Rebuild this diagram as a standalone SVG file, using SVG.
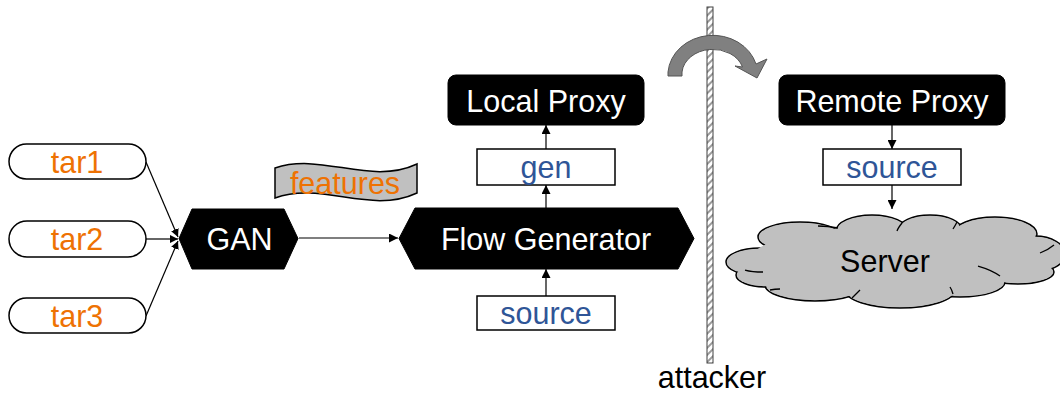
<svg xmlns="http://www.w3.org/2000/svg" width="1060" height="393" viewBox="0 0 1060 393">
  <style>
    text { font-family: "Liberation Sans", Arial, sans-serif; font-size: 30.5px; text-anchor: middle; }
    .orange { fill: #EE7203; }
    .blue { fill: #2F5597; }
    .white { fill: #FFFFFF; }
    .black { fill: #000000; }
    .box { fill: #FFFFFF; stroke: #000000; stroke-width: 1.5; }
    .dark { fill: #000000; stroke: #000000; stroke-width: 1; }
    .conn { fill: none; stroke: #000000; stroke-width: 1.2; }
    .lobe { fill: #C0C0C0; stroke: #000000; stroke-width: 1.5; }
    .lobefill { fill: #C0C0C0; stroke: none; }
  </style>
  <defs>
    <marker id="arrow" viewBox="0 0 10 10" refX="10" refY="5" markerWidth="9" markerHeight="9" markerUnits="userSpaceOnUse" orient="auto">
      <path d="M0,0 L10,5 L0,10 Z" fill="#000000"/>
    </marker>
    <marker id="arrowSmall" viewBox="0 0 10 10" refX="10" refY="5" markerWidth="8" markerHeight="8" markerUnits="userSpaceOnUse" orient="auto">
      <path d="M0,0 L10,5 L0,10 Z" fill="#000000"/>
    </marker>
    <pattern id="hatch" width="5" height="5" patternUnits="userSpaceOnUse" patternTransform="rotate(45)">
      <rect width="5" height="5" fill="#FFFFFF"/>
      <rect width="2" height="5" fill="#9A9A9A"/>
    </pattern>
  </defs>

  <!-- connectors -->
  <g id="connectors">
    <line class="conn" x1="146" y1="162" x2="178" y2="237" marker-end="url(#arrowSmall)"/>
    <line class="conn" x1="146" y1="239" x2="178" y2="239" marker-end="url(#arrowSmall)"/>
    <line class="conn" x1="146" y1="316" x2="178" y2="241" marker-end="url(#arrowSmall)"/>
    <line class="conn" x1="299" y1="238" x2="398" y2="238" stroke-width="1.6" marker-end="url(#arrow)"/>
    <line class="conn" x1="546" y1="296" x2="546" y2="269" marker-end="url(#arrow)"/>
    <line class="conn" x1="546" y1="208" x2="546" y2="185" marker-end="url(#arrow)"/>
    <line class="conn" x1="546" y1="149" x2="546" y2="125" marker-end="url(#arrow)"/>
    <line class="conn" x1="892" y1="125" x2="892" y2="149" marker-end="url(#arrow)"/>
    <line class="conn" x1="892" y1="185" x2="892" y2="209" marker-end="url(#arrow)"/>
  </g>

  <!-- targets -->
  <g id="tar1">
    <rect class="box" x="9" y="144" width="137" height="35" rx="17.5"/>
    <text class="orange" x="77" y="172.5">tar1</text>
  </g>
  <g id="tar2">
    <rect class="box" x="9" y="221" width="137" height="36" rx="18"/>
    <text class="orange" x="77" y="250">tar2</text>
  </g>
  <g id="tar3">
    <rect class="box" x="9" y="298" width="137" height="35" rx="17.5"/>
    <text class="orange" x="77" y="326.5">tar3</text>
  </g>

  <!-- GAN -->
  <g id="gan">
    <polygon class="dark" points="179,238.5 192,209 284,209 298,238.5 284,269 192,269"/>
    <text class="white" x="239.5" y="249.5">GAN</text>
  </g>

  <!-- features banner -->
  <g id="features">
    <path d="M275,168 C322,152 370,186 417,164 L417,193 C370,215 322,181 275,198 Z" fill="#C0C0C0" stroke="#000000" stroke-width="1.5"/>
    <text class="orange" x="345" y="193.5">features</text>
  </g>

  <!-- Flow Generator -->
  <g id="flow-generator">
    <polygon class="dark" points="399,238.5 415,208 678,208 694,238.5 678,269 415,269"/>
    <text class="white" x="546" y="250">Flow Generator</text>
  </g>

  <!-- Local side -->
  <g id="local-proxy">
    <rect class="dark" x="448" y="75" width="196" height="50" rx="8"/>
    <text class="white" x="546" y="112">Local Proxy</text>
  </g>
  <g id="gen">
    <rect class="box" x="477" y="149" width="138" height="36"/>
    <text class="blue" x="546" y="178">gen</text>
  </g>
  <g id="source-local">
    <rect class="box" x="477" y="296" width="138" height="34"/>
    <text class="blue" x="546" y="324">source</text>
  </g>

  <!-- attacker wall and bypass arrow -->
  <g id="attacker">
    <rect x="707" y="7" width="6" height="356" fill="url(#hatch)" stroke="#404040" stroke-width="1"/>
    <path d="M668,76 L668,72 A45,40 0 0 1 756,64 L767,59 L757,78 L735,66 L742.5,67 A31,25 0 0 0 682,72 L682,76 Z" fill="#808080" stroke="#555555" stroke-width="1"/>
    <text class="black" x="712" y="387.5" font-size="31">attacker</text>
  </g>

  <!-- Remote side -->
  <g id="remote-proxy">
    <rect class="dark" x="779" y="75" width="226" height="50" rx="8"/>
    <text class="white" x="892" y="112">Remote Proxy</text>
  </g>
  <g id="source-remote">
    <rect class="box" x="823" y="149" width="138" height="36"/>
    <text class="blue" x="892" y="178">source</text>
  </g>

  <!-- Server cloud: outlined lobes, then fill-only copies to hide inner edges -->
  <g id="server">
    <g id="cloud-lobes">
      <ellipse class="lobe" cx="760" cy="262" rx="34" ry="14"/>
      <ellipse class="lobe" cx="800" cy="237" rx="42" ry="15"/>
      <ellipse class="lobe" cx="872" cy="231" rx="36" ry="16"/>
      <ellipse class="lobe" cx="930" cy="230" rx="32" ry="15"/>
      <ellipse class="lobe" cx="995" cy="234" rx="42" ry="17"/>
      <ellipse class="lobe" cx="1035" cy="254" rx="30" ry="18"/>
      <ellipse class="lobe" cx="1018" cy="272" rx="36" ry="12"/>
      <ellipse class="lobe" cx="960" cy="282" rx="45" ry="15"/>
      <ellipse class="lobe" cx="900" cy="290" rx="55" ry="18"/>
      <ellipse class="lobe" cx="815" cy="285" rx="50" ry="16"/>
      <ellipse class="lobe" cx="766" cy="275" rx="30" ry="12"/>
    </g>
    <g id="cloud-fill">
      <ellipse class="lobefill" cx="760" cy="262" rx="33" ry="13"/>
      <ellipse class="lobefill" cx="800" cy="237" rx="41" ry="14"/>
      <ellipse class="lobefill" cx="872" cy="231" rx="35" ry="15"/>
      <ellipse class="lobefill" cx="930" cy="230" rx="31" ry="14"/>
      <ellipse class="lobefill" cx="995" cy="234" rx="41" ry="16"/>
      <ellipse class="lobefill" cx="1035" cy="254" rx="29" ry="17"/>
      <ellipse class="lobefill" cx="1018" cy="272" rx="35" ry="11"/>
      <ellipse class="lobefill" cx="960" cy="282" rx="44" ry="14"/>
      <ellipse class="lobefill" cx="900" cy="290" rx="54" ry="17"/>
      <ellipse class="lobefill" cx="815" cy="285" rx="49" ry="15"/>
      <ellipse class="lobefill" cx="766" cy="275" rx="29" ry="11"/>
      <ellipse class="lobefill" cx="890" cy="260" rx="140" ry="34"/>
    </g>
    <!-- inner creases -->
    <path d="M763,272 Q752,272 745,270 M838,228 Q828,226 818,226 M902,223 Q898,228 897,231 M957,222 Q955,226 953,229 M1040,253 Q1048,250 1054,245 M1000,276 Q992,270 978,266 M953,294 Q952,290 950,287 M852,298 Q856,294 860,290 M770,290 Q775,289 780,289" fill="none" stroke="#000000" stroke-width="1.3"/>
    <text class="black" x="885" y="272" font-size="31">Server</text>
  </g>
</svg>
